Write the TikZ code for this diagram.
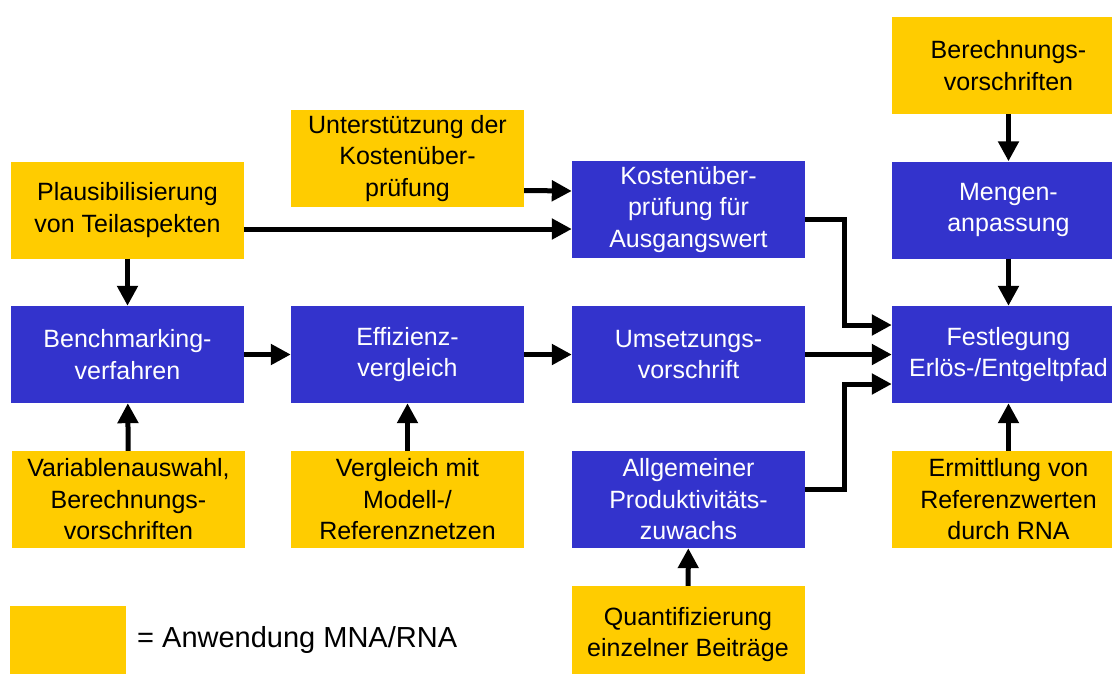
\documentclass[tikz,border=0pt]{standalone}
\usepackage{fontspec}
\setmainfont{Liberation Sans}
\usetikzlibrary{arrows.meta}
\definecolor{mnagelb}{HTML}{FFCC00}
\definecolor{prozblau}{HTML}{3333CC}
\tikzset{
  box/.style={rectangle, inner sep=0pt, minimum width=233pt, minimum height=97pt,
    align=center, font=\fontsize{25}{31.5}\selectfont},
  gelb/.style={box, fill=mnagelb, text=black},
  blau/.style={box, fill=prozblau, text=white},
  arr/.style={line width=5pt, -{Triangle[length=20pt,width=20pt]}},
}
\begin{document}
\begin{tikzpicture}[x=1pt,y=-1pt]
\useasboundingbox (0,0) rectangle (1112,673);

% column 1
\node[gelb] (plaus) at (127.5,210) {Plausibilisierung\\von Teilaspekten};
\node[blau] (bench) at (127.5,354.5) {Benchmarking-\\verfahren};
\node[gelb] (varia) at (128.5,499.5) {Variablenauswahl,\\Berechnungs-\\vorschriften};

% column 2
\node[gelb] (unt) at (407.5,158.5) {Unterstützung der\\Kostenüber-\\prüfung};
\node[blau] (eff) at (407.5,354.5) {Effizienz-\\vergleich};
\node[gelb] (vergl) at (407.5,499.5) {Vergleich mit\\Modell-/\\Referenznetzen};

% column 3
\node[blau] (kost) at (688.5,209.5) {Kostenüber-\\prüfung für\\Ausgangswert};
\node[blau] (umset) at (688.5,354.5) {Umsetzungs-\\vorschrift};
\node[blau] (allg) at (688.5,499.5) {Allgemeiner\\Produktivitäts-\\zuwachs};
\node[gelb] (quant) at (688,634.5) {Quantifizierung\\einzelner Beiträge};

% column 4
\node[gelb] (ber) at (1008.5,65.5) {Berechnungs-\\vorschriften};
\node[blau] (men) at (1008.5,210) {Mengen-\\anpassung};
\node[blau] (fest) at (1008.5,354.5) {Festlegung\\Erlös-/Entgeltpfad};
\node[gelb] (ermit) at (1008.5,499.5) {Ermittlung von\\Referenzwerten\\durch RNA};

% legend
\node[fill=mnagelb, minimum width=116pt, minimum height=72pt, inner sep=0pt] (leg) at (68,642) {};
\node[anchor=west, inner sep=0pt, font=\fontsize{29}{34}\selectfont] (legtxt) at (137,640) {= Anwendung MNA/RNA};

% connectors
\draw[arr] (plaus) -- (bench);
\draw[arr] (varia) -- (bench);
\draw[arr] (bench) -- (eff);
\draw[arr] (vergl) -- (eff);
\draw[arr] (eff) -- (umset);
\draw[arr] ([yshift=-32pt]unt.east) -- ([yshift=18.5pt]kost.west);
\draw[arr] ([yshift=-19pt]plaus.east) -- ([yshift=-19.5pt]kost.west);
\draw[arr] (quant) -- (allg);
\draw[arr] (ber) -- (men);
\draw[arr] (men) -- (fest);
\draw[arr] (ermit) -- (fest);
\draw[arr] (umset) -- (fest);
\draw[arr] ([yshift=-9.5pt]kost.east) -- ++(39,0) |- ([yshift=29.5pt]fest.west);
\draw[arr] ([yshift=10.5pt]allg.east) -- ++(39,0) |- ([yshift=-29.5pt]fest.west);
\end{tikzpicture}
\end{document}
